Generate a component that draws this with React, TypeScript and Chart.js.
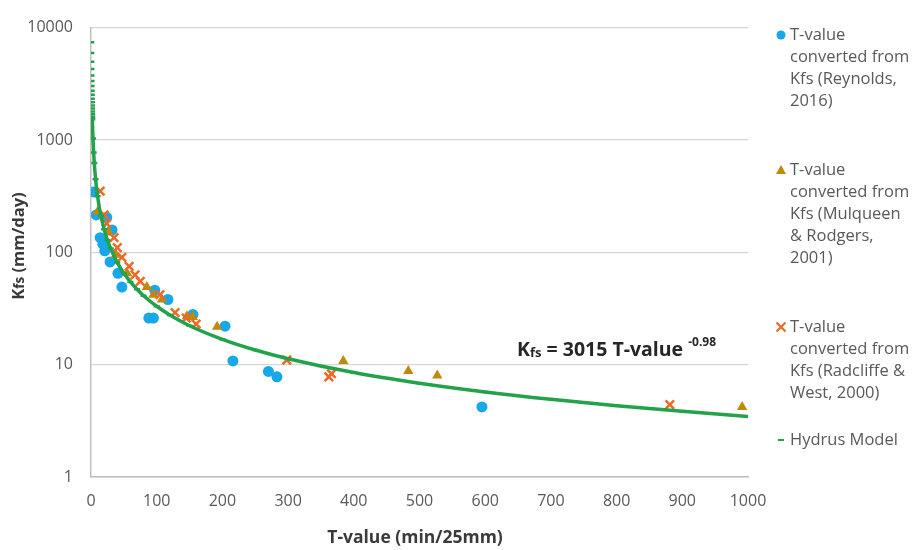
import { useEffect, useRef } from "react";
import { Chart, registerables } from "chart.js";

Chart.register(...registerables);

// T-value (min/25mm) and Kfs (mm/day) for each source
const reynoldsT = [4, 8, 24, 14, 32, 18, 21, 29, 41, 47, 97, 117, 88, 95, 155, 204, 216, 270, 283, 595];
const reynoldsK = [345, 215, 205, 135, 158, 118, 103, 82, 65, 49, 46, 38, 26, 26, 28, 22, 10.8, 8.7, 7.8, 4.2];

const mulqueenT = [10, 27, 38, 55, 85, 95, 108, 146, 155, 192, 384, 483, 527, 991];
const mulqueenK = [230, 150, 95, 65, 49, 42, 38, 27, 26.5, 21.7, 10.8, 8.8, 8.0, 4.2];

const radcliffeT = [14, 20, 24, 35, 40, 47, 58, 67, 75, 105, 128, 145, 160, 298, 362, 366, 881];
const radcliffeK = [350, 215, 180, 135, 110, 90, 75, 63, 55, 42, 29, 26, 23, 11, 7.8, 8.3, 4.4];

// Hydrus model output
const hydrusT = [
  0.4, 0.5, 0.6, 0.7, 0.8, 0.9, 1.0, 1.1, 1.2, 1.3, 1.4, 1.5, 1.6, 1.7, 1.8, 1.9, 2, 3, 4, 5, 7, 10,
  15, 20, 25, 30, 40, 50, 60, 70, 80, 100, 120, 150, 200, 250, 300, 400, 500, 600, 700, 800, 900, 1000,
];
const hydrusK = [
  7400, 5946, 4974, 4276, 3752, 3343, 3015, 2746, 2522, 2332, 2168, 2026, 1902, 1792, 1695, 1607, 1529,
  1028, 775, 623, 448, 316, 212, 160, 128.6, 108, 81, 65, 54.5, 46.9, 41.1, 33.1, 27.7, 22.2, 16.8,
  13.5, 11.3, 8.5, 6.83, 5.71, 4.91, 4.31, 3.84, 3.46,
];

const yTickValues = [1, 10, 100, 1000, 10000];

const legendLabels = [
  ["T-value", "converted from", "Kfs (Reynolds,", "2016)"],
  ["T-value", "converted from", "Kfs (Mulqueen", "& Rodgers,", "2001)"],
  ["T-value", "converted from", "Kfs (Radcliffe &", "West, 2000)"],
  ["Hydrus Model"],
];

const xTitle = "T-value (min/25mm)";
const equationCoef = "3015";
const equationExp = "-0.98";

const FONT = '"Open Sans", sans-serif';
const BLUE = "#17A7EA";
const GOLD = "#BF8A0C";
const ORANGE = "#EB6A26";
const GREEN = "#22A24A";
const TEXT = "#595959";
const DARK = "#3A3A3A";

const toPoints = (xs: number[], ys: number[]) => xs.map((x, i) => ({ x, y: ys[i] }));

type Run = { text: string; size: number; dy?: number };

function drawRuns(ctx: CanvasRenderingContext2D, runs: Run[], x: number, y: number, align: "left" | "center") {
  let total = 0;
  for (const r of runs) {
    ctx.font = `bold ${r.size}px ${FONT}`;
    total += ctx.measureText(r.text).width;
  }
  let cx = align === "center" ? x - total / 2 : x;
  for (const r of runs) {
    ctx.font = `bold ${r.size}px ${FONT}`;
    ctx.fillText(r.text, cx, y + (r.dy || 0));
    cx += ctx.measureText(r.text).width;
  }
}

const overlayPlugin = {
  id: "overlay",
  afterDraw(chart: Chart) {
    const ctx = chart.ctx;
    ctx.save();
    ctx.textBaseline = "alphabetic";
    ctx.textAlign = "left";

    // axis titles
    ctx.fillStyle = DARK;
    drawRuns(ctx, [{ text: xTitle, size: 17.5 }], 415, 543, "center");
    ctx.save();
    ctx.translate(24, 246);
    ctx.rotate(-Math.PI / 2);
    drawRuns(
      ctx,
      [
        { text: "K", size: 16.5 },
        { text: "fs", size: 13.5 },
        { text: " (mm/day)", size: 16.5 },
      ],
      0,
      0,
      "center"
    );
    ctx.restore();

    // fitted equation
    ctx.fillStyle = "#262626";
    drawRuns(
      ctx,
      [
        { text: "K", size: 19.5 },
        { text: "fs", size: 13, dy: 1 },
        { text: ` = ${equationCoef} T-value `, size: 19.5 },
        { text: equationExp, size: 12, dy: -10 },
      ],
      517,
      356,
      "left"
    );

    // legend
    const itemTop = [35, 170, 327, 440];
    const lineH = 22;
    const mx = 781;
    const tx = 790;
    ctx.font = `16.5px ${FONT}`;
    ctx.textBaseline = "middle";
    legendLabels.forEach((lines, i) => {
      const y0 = itemTop[i];
      ctx.fillStyle = TEXT;
      lines.forEach((ln, j) => ctx.fillText(ln, tx, y0 + j * lineH));
      if (i === 0) {
        ctx.fillStyle = BLUE;
        ctx.beginPath();
        ctx.arc(mx, y0, 4.5, 0, Math.PI * 2);
        ctx.fill();
      } else if (i === 1) {
        ctx.fillStyle = GOLD;
        ctx.beginPath();
        ctx.moveTo(mx, y0 - 5);
        ctx.lineTo(mx + 5, y0 + 4);
        ctx.lineTo(mx - 5, y0 + 4);
        ctx.closePath();
        ctx.fill();
      } else if (i === 2) {
        ctx.strokeStyle = ORANGE;
        ctx.lineWidth = 2.2;
        ctx.beginPath();
        ctx.moveTo(mx - 4.5, y0 - 4.5);
        ctx.lineTo(mx + 4.5, y0 + 4.5);
        ctx.moveTo(mx + 4.5, y0 - 4.5);
        ctx.lineTo(mx - 4.5, y0 + 4.5);
        ctx.stroke();
      } else {
        ctx.strokeStyle = GREEN;
        ctx.lineWidth = 2;
        ctx.beginPath();
        ctx.moveTo(mx - 3, y0);
        ctx.lineTo(mx + 3, y0);
        ctx.stroke();
      }
    });
    ctx.restore();
  },
};

export default function App() {
  const canvasRef = useRef<HTMLCanvasElement | null>(null);

  useEffect(() => {
    const canvas = canvasRef.current;
    if (!canvas) return;
    const chart = new Chart(canvas, {
      type: "scatter",
      data: {
        datasets: [
          {
            label: "Hydrus Model",
            data: toPoints(hydrusT, hydrusK),
            showLine: true,
            borderColor: GREEN,
            borderWidth: 3.5,
            pointStyle: "line",
            pointRadius: 3,
            pointBorderWidth: 2.5,
            pointBorderColor: GREEN,
            pointBackgroundColor: GREEN,
            cubicInterpolationMode: "monotone",
            segment: {
              borderColor: (c: any) => (c.p0.parsed.y > 1650 ? "rgba(0,0,0,0)" : GREEN),
            },
            order: 0,
          },
          {
            label: "Reynolds 2016",
            data: toPoints(reynoldsT, reynoldsK),
            pointStyle: "circle",
            pointRadius: 5.5,
            pointBorderWidth: 0,
            backgroundColor: BLUE,
            borderColor: BLUE,
            order: 3,
          },
          {
            label: "Mulqueen & Rodgers 2001",
            data: toPoints(mulqueenT, mulqueenK),
            pointStyle: "triangle",
            pointRadius: 6,
            pointBorderWidth: 0,
            backgroundColor: GOLD,
            borderColor: GOLD,
            order: 2,
          },
          {
            label: "Radcliffe & West 2000",
            data: toPoints(radcliffeT, radcliffeK),
            pointStyle: "crossRot",
            pointRadius: 6,
            pointBorderWidth: 2.5,
            borderColor: ORANGE,
            backgroundColor: ORANGE,
            order: 1,
          },
        ],
      },
      options: {
        responsive: false,
        animation: false,
        devicePixelRatio: 1,
        layout: { padding: { left: 0, top: 16, right: 168, bottom: 0 } },
        plugins: {
          legend: { display: false },
          tooltip: { enabled: false },
        },
        scales: {
          x: {
            type: "linear",
            min: 0,
            max: 1000,
            ticks: {
              stepSize: 100,
              padding: 15,
              color: TEXT,
              font: { family: FONT, size: 16 },
              maxRotation: 0,
              callback: (v: any) => String(v),
            },
            grid: { display: false, drawTicks: false },
            border: { display: true, color: "#BFBFBF", width: 1.5 },
            afterFit: (s: any) => {
              s.height = 73;
            },
          },
          y: {
            type: "logarithmic",
            min: 1,
            max: 10000,
            afterBuildTicks: (s: any) => {
              s.ticks = yTickValues.map((v) => ({ value: v }));
            },
            ticks: {
              padding: 18,
              color: TEXT,
              font: { family: FONT, size: 16 },
              callback: (v: any) => String(v),
            },
            grid: { color: "#D6D6D6", lineWidth: 1.2, drawTicks: false },
            border: { display: true, color: "#BFBFBF", width: 1.5 },
            afterFit: (s: any) => {
              s.width = 91;
            },
          },
        },
      },
      plugins: [overlayPlugin],
    });
    return () => chart.destroy();
  }, []);

  return (
    <div style={{ position: "fixed", left: 0, top: 0, width: 916, height: 550, background: "#fff" }}>
      <canvas ref={canvasRef} width={916} height={550} style={{ display: "block" }} />
    </div>
  );
}
